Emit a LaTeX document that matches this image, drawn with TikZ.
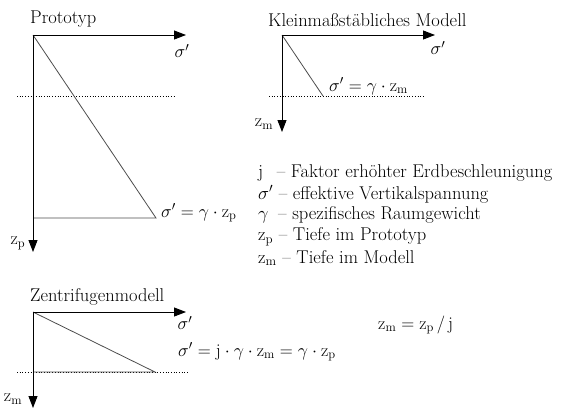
\documentclass[tikz,border=0pt]{standalone}
\usepackage{fix-cm}
\usepackage{fontspec}
\usetikzlibrary{arrows.meta}
\begin{document}
\begin{tikzpicture}[x=1pt,y=-1pt,
  axis/.style={line width=0.9pt,-{Triangle[length=12pt,width=9pt]}},
  slope/.style={draw=black!70,line width=0.8pt},
  level/.style={dotted,line width=0.7pt},
  lbl/.style={inner sep=0pt,font=\fontsize{18}{20}\selectfont},
  leg/.style={inner sep=0pt,font=\fontsize{18.5}{20}\selectfont,anchor=west},
  ttl/.style={inner sep=0pt,font=\fontsize{18.5}{20}\selectfont,anchor=west}]
\useasboundingbox (0,0) rectangle (562,408);
% Prototyp
\node[ttl] (t1) at (30,19) {Prototyp};
\coordinate (o1) at (33,35);
\coordinate (h1) at (186,35);
\coordinate (v1) at (33,252);
\coordinate (b1) at (156,218);
\coordinate (c1) at (33,218);
\draw[level] (17,96) -- (175,96);
\draw[slope] (o1) -- (b1) -- (c1);
\draw[axis] (o1) -- (h1);
\draw[axis] (o1) -- (v1);
\node[lbl] (s1) at (182,51) {$\sigma'$};
\node[lbl,anchor=west] (e1) at (161,213) {$\sigma' = \gamma\cdot \mathrm{z}_\mathrm{p}$};
\node[lbl] (z1) at (18,243) {$\mathrm{z}_\mathrm{p}$};
% Kleinmassstaebliches Modell
\node[ttl] (t2) at (268,20) {Kleinmaßstäbliches Modell};
\coordinate (o2) at (282,35);
\coordinate (h2) at (435,35);
\coordinate (v2) at (282,132);
\coordinate (b2) at (323,96);
\draw[level] (269,96) -- (424,96);
\draw[slope] (o2) -- (b2);
\draw[axis] (o2) -- (h2);
\draw[axis] (o2) -- (v2);
\node[lbl] (s2) at (438,48) {$\sigma'$};
\node[lbl,anchor=west] (e2) at (329,86) {$\sigma' = \gamma\cdot \mathrm{z}_\mathrm{m}$};
\node[lbl] (z2) at (264,124) {$\mathrm{z}_\mathrm{m}$};
% Legend
\node[leg] (l1) at (258,173) {j\hspace{8pt} -- Faktor erhöhter Erdbeschleunigung};
\node[leg] (l2) at (258,194) {$\sigma'$ -- effektive Vertikalspannung};
\node[leg] (l3) at (258,215) {$\gamma$\hspace{4pt} -- spezifisches Raumgewicht};
\node[leg] (l4) at (258,237) {$\mathrm{z}_\mathrm{p}$ -- Tiefe im Prototyp};
\node[leg] (l5) at (258,258) {$\mathrm{z}_\mathrm{m}$ -- Tiefe im Modell};
% Zentrifugenmodell
\node[ttl] (t3) at (30,297) {Zentrifugenmodell};
\coordinate (o3) at (33,312);
\coordinate (h3) at (186,312);
\coordinate (v3) at (33,408);
\coordinate (b3) at (155,372);
\coordinate (c3) at (33,372);
\draw[level] (17,372) -- (188,372);
\draw[slope] (o3) -- (b3) -- (c3);
\draw[axis] (o3) -- (h3);
\draw[axis] (o3) -- (v3);
\node[lbl] (s3) at (185,323) {$\sigma'$};
\node[lbl,anchor=west] (e3) at (178,352) {$\sigma' = \mathrm{j}\cdot\gamma\cdot \mathrm{z}_\mathrm{m} = \gamma\cdot\mathrm{z}_\mathrm{p}$};
\node[lbl] (z3) at (13,399) {$\mathrm{z}_\mathrm{m}$};
\node[lbl,anchor=west] (r) at (378,325) {$\mathrm{z}_\mathrm{m} = \mathrm{z}_\mathrm{p}\,/\,\mathrm{j}$};
\end{tikzpicture}
\end{document}
